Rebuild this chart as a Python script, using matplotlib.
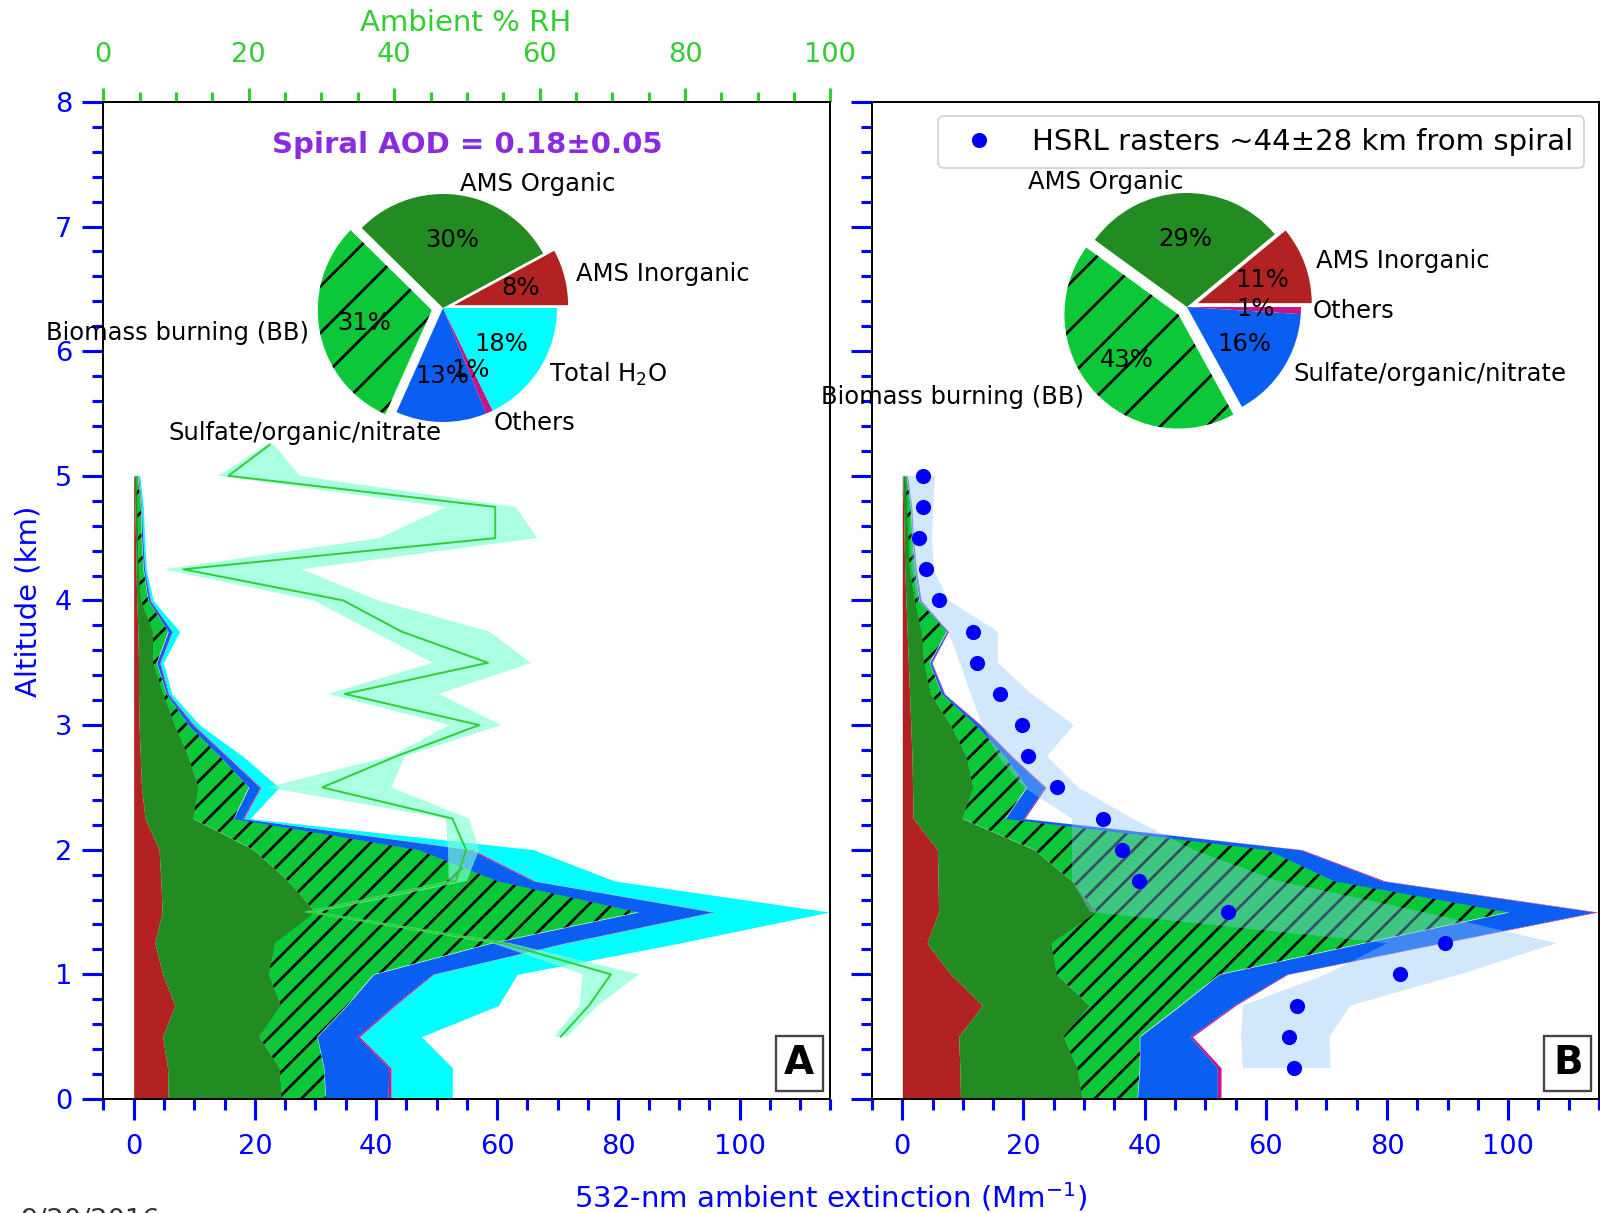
import numpy as np
import matplotlib
matplotlib.use("Agg")
import matplotlib.pyplot as plt
from matplotlib.ticker import MultipleLocator

plt.rcParams["hatch.linewidth"] = 1.4

# ---------------- data ----------------
alt = [0.0, 0.25, 0.5, 0.75, 1.0, 1.25, 1.5, 1.75, 2.0, 2.25, 2.5,
       2.75, 3.0, 3.25, 3.5, 3.75, 4.0, 4.25, 4.5, 4.75, 5.0]

# Panel A components (532-nm ambient extinction, Mm-1)
A_inorg = [5.7, 5.6, 4.8, 6.8, 4.8, 3.5, 4.7, 4.5, 4.2, 1.9, 1.3, 1.1, 0.9, 0.8, 0.8, 0.7, 0.5, 0.4, 0.3, 0.2, 0.1]
A_org   = [18.7, 18.5, 15.9, 17.5, 17.5, 19.8, 25.3, 21.0, 15.6, 7.9, 9.4, 7.9, 5.9, 4.1, 2.4, 2.5, 0.7, 0.4, 0.4, 0.4, 0.3]
A_bb    = [7.3, 7.3, 9.6, 10.9, 17.3, 35.7, 53.3, 34.5, 27.2, 6.7, 8.3, 5.2, 2.2, 0.5, 0.6, 2.5, 1.2, 0.8, 0.6, 0.6, 0.3]
A_sul   = [10.3, 10.7, 6.6, 7.7, 9.7, 12.0, 12.2, 5.9, 8.5, 1.5, 1.8, 1.1, 0.8, 0.3, 0.5, 0.6, 0.3, 0.2, 0.2, 0.1, 0.1]
A_oth   = [0.5, 0.4, 0.4, 0.3, 0.2, 0.3, 0.4, 0.3, 0.5, 0.2, 0.2, 0.2, 0.2, 0.1, 0.1, 0.1, 0.1, 0.05, 0.05, 0.05, 0.05]
A_h2o   = [10.1, 10.1, 10.2, 17.0, 13.8, 18.7, 18.9, 13.1, 10.0, 1.0, 3.0, 2.5, 0.9, 0.5, 0.5, 1.2, 0.4, 0.25, 0.25, 0.25, 0.15]

# Panel B components
B_inorg = [9.6, 9.5, 9.3, 13.2, 8.0, 4.1, 6.0, 5.9, 5.8, 1.8, 1.7, 1.6, 1.4, 1.2, 1.0, 0.8, 0.6, 0.4, 0.3, 0.2, 0.1]
B_org   = [20.1, 19.4, 17.3, 17.7, 17.5, 20.5, 26.1, 22.1, 16.0, 8.1, 10.0, 9.0, 6.6, 3.5, 2.6, 2.4, 1.5, 0.8, 0.7, 0.6, 0.4]
B_bb    = [9.1, 10.3, 12.6, 15.0, 26.8, 51.4, 68.0, 43.2, 38.4, 7.1, 8.8, 6.3, 4.1, 1.8, 0.9, 4.1, 0.7, 0.9, 0.7, 0.6, 0.2]
B_sul   = [13.2, 12.8, 8.3, 8.8, 11.1, 12.7, 14.2, 8.0, 5.5, 3.0, 3.0, 1.0, 0.7, 0.4, 0.3, 0.2, 0.2, 0.1, 0.1, 0.1, 0.1]
B_oth   = [0.6, 0.6, 0.4, 0.3, 0.2, 0.3, 0.5, 0.4, 0.3, 0.2, 0.2, 0.2, 0.2, 0.1, 0.1, 0.1, 0.1, 0.1, 0.05, 0.05, 0.05]

# Ambient RH profile (top axis)
rh_alt  = [0.5, 0.75, 1.0, 1.25, 1.5, 1.75, 2.0, 2.25, 2.5, 2.75, 3.0, 3.25, 3.5, 3.75, 4.0, 4.25, 4.5, 4.75, 5.0, 5.25]
rh_mid  = [62.9, 66.8, 69.8, 54.9, 28.4, 48.5, 49.9, 48.0, 30.1, 40.3, 51.7, 33.2, 52.9, 41.0, 33.0, 11.0, 53.9, 53.9, 17.2, 22.9]
rh_lo   = [62.0, 65.5, 65.9, 53.5, 27.5, 47.5, 47.4, 47.1, 22.5, 39.5, 47.6, 30.9, 45.3, 37.1, 28.9, 8.3, 38.0, 47.1, 15.8, 22.5]
rh_hi   = [63.8, 68.0, 73.7, 56.0, 29.5, 50.0, 51.7, 50.3, 39.6, 41.5, 54.7, 46.2, 58.8, 53.1, 37.8, 27.3, 59.7, 56.7, 27.0, 23.5]

# HSRL rasters (panel B)
hsrl_alt = [0.25, 0.5, 0.75, 1.0, 1.25, 1.5, 1.75, 2.0, 2.25, 2.5, 2.75, 3.0, 3.25, 3.5, 3.75, 4.0, 4.25, 4.5, 4.75, 5.0]
hsrl_ext = [64.6, 63.8, 65.1, 82.2, 89.5, 53.7, 39.0, 36.3, 33.1, 25.5, 20.8, 19.7, 16.2, 12.4, 11.7, 6.0, 3.9, 2.8, 3.4, 3.4]
hsrl_lo  = [56.2, 55.9, 56.2, 70.0, 80.0, 31.0, 28.0, 28.0, 28.0, 20.0, 15.8, 13.2, 11.3, 9.5, 7.6, 2.5, 1.6, 1.4, 1.3, 1.0]
hsrl_hi  = [70.7, 70.5, 74.0, 92.0, 108.0, 86.0, 62.0, 48.0, 38.0, 29.0, 23.9, 28.3, 21.3, 15.8, 15.8, 7.6, 5.2, 4.9, 5.1, 5.4]

# Pie charts
pieA_labels = ["AMS Inorganic", "AMS Organic", "Biomass burning (BB)",
               "Sulfate/organic/nitrate", "Others", "Total H$_2$O"]
pieA_vals = [8, 30, 31, 13, 1, 18]
pieB_labels = ["AMS Inorganic", "AMS Organic", "Biomass burning (BB)",
               "Sulfate/organic/nitrate", "Others"]
pieB_vals = [11, 29, 43, 16, 1]

# ---------------- style ----------------
C_INORG = "#B22222"
C_ORG = "#228B22"
C_BB = "#0CC838"
C_SUL = "#0B5EF2"
C_OTH = "#C71585"
C_H2O = "#00FFFF"

DPI = 140
fig = plt.figure(figsize=(1600 / DPI, 1213 / DPI), dpi=DPI)
axA = fig.add_axes([0.0646, 0.094, 0.4544, 0.822])
axB = fig.add_axes([0.545, 0.094, 0.4544, 0.822])


def draw_stack(ax, comps, colors, hatches):
    left = np.zeros(len(alt))
    for vals, c, h in zip(comps, colors, hatches):
        right = left + np.asarray(vals, dtype=float)
        ax.fill_betweenx(alt, left, right, facecolor=c,
                         edgecolor="black" if h else c,
                         linewidth=0, hatch=h, zorder=2)
        left = right


draw_stack(axA, [A_inorg, A_org, A_bb, A_sul, A_oth, A_h2o],
           [C_INORG, C_ORG, C_BB, C_SUL, C_OTH, C_H2O],
           [None, None, "//", None, None, None])
draw_stack(axB, [B_inorg, B_org, B_bb, B_sul, B_oth],
           [C_INORG, C_ORG, C_BB, C_SUL, C_OTH],
           [None, None, "//", None, None])

for ax in (axA, axB):
    ax.set_xlim(-5, 115)
    ax.set_ylim(0, 8)
    ax.xaxis.set_major_locator(MultipleLocator(20))
    ax.xaxis.set_minor_locator(MultipleLocator(5))
    ax.yaxis.set_major_locator(MultipleLocator(1))
    ax.yaxis.set_minor_locator(MultipleLocator(0.2))
    ax.tick_params(which="major", length=11, width=1.6, colors="blue",
                   labelsize=14, direction="out")
    ax.tick_params(which="minor", length=5.5, width=1.6, colors="blue",
                   direction="out")
    ax.tick_params(axis="x", which="major", pad=7)
    ax.tick_params(axis="y", which="major", pad=5)
    for s in ax.spines.values():
        s.set_linewidth(1.0)
        s.set_color("black")

axB.tick_params(axis="y", labelleft=False)

# HSRL band + points
axB.fill_betweenx(hsrl_alt, hsrl_lo, hsrl_hi, facecolor="#8EC5F5",
                  alpha=0.4, linewidth=0, zorder=3)
axB.plot(hsrl_ext, hsrl_alt, "o", color="blue", ms=6.8, ls="none",
         zorder=4, label="HSRL rasters ~44\u00b128 km from spiral")
axB.legend(loc="upper right", fontsize=15, borderaxespad=0.5,
           handletextpad=0.8)

# RH twin axis
axRH = axA.twiny()
axRH.set_xlim(0, 100)
axRH.xaxis.set_major_locator(MultipleLocator(20))
axRH.xaxis.set_minor_locator(MultipleLocator(5))
axRH.tick_params(axis="x", which="major", length=7, width=1.6,
                 colors="limegreen", labelsize=14, pad=10.5)
axRH.tick_params(axis="x", which="minor", length=5, width=1.6,
                 colors="limegreen")
axRH.fill_betweenx(rh_alt, rh_lo, rh_hi, facecolor="aquamarine",
                   alpha=0.65, linewidth=0, zorder=3)
axRH.plot(rh_mid, rh_alt, color="limegreen", lw=1.0, zorder=4)

# Panel letters
for ax, letter in ((axRH, "A"), (axB, "B")):
    ax.text(0.957, 0.036, letter, transform=ax.transAxes, ha="center",
            va="center", fontsize=20, fontweight="bold", zorder=10,
            bbox=dict(boxstyle="square,pad=0.22", fc="white",
                      ec="#444444", lw=1.2))

axRH.text(0.5, 0.957, "Spiral AOD = 0.18\u00b10.05", transform=axRH.transAxes,
          ha="center", va="center", fontsize=15, fontweight="bold",
          color="blueviolet", zorder=10)

# Figure texts
fig.text(0.291, 0.981, "Ambient % RH", ha="center", va="center",
         fontsize=15, color="limegreen")
fig.text(0.0175, 0.504, "Altitude (km)", ha="center", va="center",
         rotation=90, fontsize=15, color="blue")
fig.text(0.519, 0.013, "532-nm ambient extinction (Mm$^{-1}$)",
         ha="center", va="center", fontsize=15, color="blue")
fig.text(0.0125, 0.0045, "9/20/2016", ha="left", va="top", fontsize=14,
         color="#333333")

# Pies
pw, ph = 285 / 1600, 285 / 1213


def add_pie(cx_px, cy_px, vals, labels, colors, explode):
    pax = fig.add_axes([cx_px / 1600 - pw / 2, 1 - cy_px / 1213 - ph / 2, pw, ph])
    wedges, texts, autotexts = pax.pie(
        vals, labels=labels, colors=colors, explode=explode,
        autopct="%1.0f%%", startangle=0, counterclock=True,
        textprops=dict(fontsize=12.5, color="black"))
    wedges[2].set_hatch("/")
    wedges[2].set_edgecolor("black")
    wedges[2].set_linewidth(0)
    pax.set_xlim(-1.25, 1.25)
    pax.set_ylim(-1.25, 1.25)
    pax.set_aspect("equal")
    return pax


add_pie(443, 308, pieA_vals, pieA_labels,
        [C_INORG, C_ORG, C_BB, C_SUL, C_OTH, C_H2O],
        [0.1, 0, 0.1, 0, 0, 0])
add_pie(1187, 307, pieB_vals, pieB_labels,
        [C_INORG, C_ORG, C_BB, C_SUL, C_OTH],
        [0.1, 0, 0.1, 0, 0])

fig.savefig("out.png", dpi=DPI)
